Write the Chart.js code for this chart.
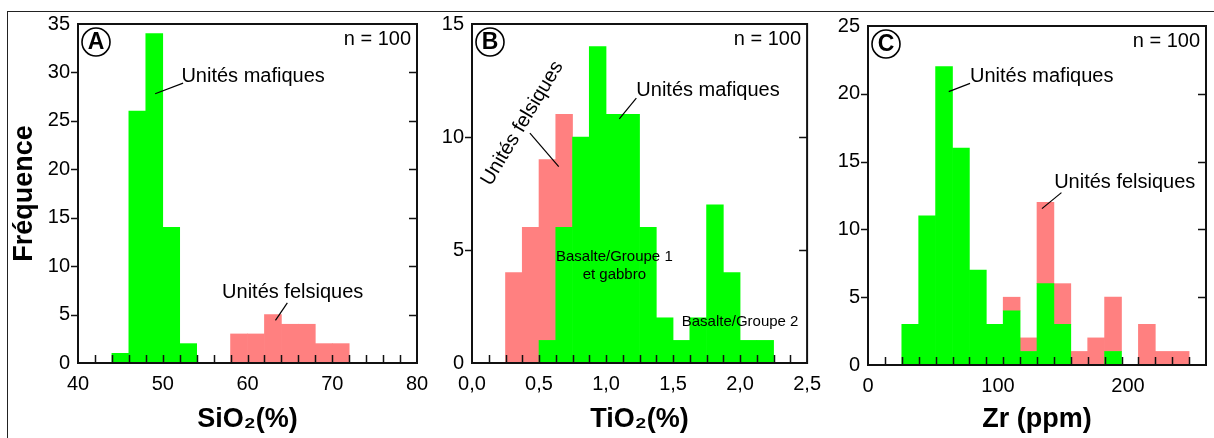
<!DOCTYPE html>
<html lang="fr">
<head>
<meta charset="utf-8">
<title>Histogrammes SiO2, TiO2 et Zr</title>
<script src="https://cdn.jsdelivr.net/npm/chart.js@4.4.1/dist/chart.umd.min.js"></script>
<style>
  html, body { margin: 0; padding: 0; background: #fff; }
  #figure { position: relative; width: 1214px; height: 438px; overflow: hidden; }
  #figure .frame { position: absolute; left: 7px; top: 11px; right: -4px; bottom: -4px; border-left: 1px solid #222; border-top: 1px solid #222; }
  .panel { position: absolute; top: 0; height: 438px; }
</style>
</head>
<body>
<div id="figure">
  <div class="frame"></div>
  <div class="panel" style="left:0;width:440px"><canvas id="chartSi" width="440" height="438"></canvas></div>
  <div class="panel" style="left:420px;width:410px"><canvas id="chartTi" width="410" height="438"></canvas></div>
  <div class="panel" style="left:820px;width:394px"><canvas id="chartZr" width="394" height="438"></canvas></div>
</div>
<script>
// SiO2 (%) : début de chaque classe, largeur 2 %
const siStep = 2;
const siBins = [44, 46, 48, 50, 52, 54, 56, 58, 60, 62, 64, 66, 68, 70];
const siMafic = [1, 26, 34, 14, 2, 0, 0, 0, 0, 0, 0, 0, 0, 0];
const siFelsic = [0, 0, 0, 0, 0, 0, 0, 3, 3, 5, 4, 4, 2, 2];
const siRange = [40, 80];
const siTicks = [40, 50, 60, 70, 80];
const siFreqTicks = [0, 5, 10, 15, 20, 25, 30, 35];

// TiO2 (%) : classes de 0,125 %
const tiStep = 0.125;
const tiBins = [0.25, 0.375, 0.5, 0.625, 0.75, 0.875, 1.0, 1.125, 1.25, 1.375, 1.5, 1.625, 1.75, 1.875, 2.0, 2.125];
const tiMafic = [0, 0, 1, 6, 10, 14, 11, 11, 6, 2, 1, 2, 7, 4, 1, 1];
const tiFelsic = [4, 6, 8, 5, 0, 0, 0, 0, 0, 0, 0, 0, 0, 0, 0, 0];
const tiRange = [0, 2.5];
const tiTicks = [0, 0.5, 1, 1.5, 2, 2.5];
const tiFreqTicks = [0, 5, 10, 15];

// Zr (ppm) : classes de 13 ppm
const zrStep = 13;
const zrBins = [26, 39, 52, 65, 78, 91, 104, 117, 130, 143, 156, 169, 182, 195, 208, 221, 234];
const zrMafic = [3, 11, 22, 16, 7, 3, 4, 1, 6, 3, 0, 0, 1, 0, 0, 0, 0];
const zrFelsic = [0, 0, 0, 0, 0, 0, 1, 1, 6, 3, 1, 2, 4, 0, 3, 1, 1];
const zrRange = [0, 260];
const zrTicks = [0, 100, 200];
const zrFreqTicks = [0, 5, 10, 15, 20, 25];

const FONT = '"Liberation Sans", Arial, Helvetica, sans-serif';
Chart.defaults.font.family = FONT;
Chart.defaults.color = '#000';

const MAFIC_COLOR = '#00ff00';
const FELSIC_COLOR = '#ff8080';

// one bar per non-empty class, centred in its class
function toPoints(bins, step, counts) {
  return bins.map((b, i) => ({ x: b + step / 2, y: counts[i] })).filter(p => p.y > 0);
}

const sum = arr => arr.reduce((a, b) => a + b, 0);

// box around the plot + tick marks (inward along x, outward left / inward right on y)
const framePlugin = {
  id: 'frame',
  afterDatasetsDraw(chart, args, opts) {
    const { ctx, chartArea: { left, right, top, bottom }, scales: { x, y } } = chart;
    ctx.save();
    ctx.strokeStyle = '#111';
    ctx.lineWidth = 1.5;
    ctx.beginPath();
    for (let v = x.min + opts.minorStep; v < x.max - opts.minorStep / 2; v += opts.minorStep) {
      const px = Math.round(x.getPixelForValue(v)) + 0.5;
      ctx.moveTo(px, bottom);
      ctx.lineTo(px, bottom - 8);
    }
    y.ticks.forEach(t => {
      if (t.value === y.min || t.value === y.max) return;
      const py = Math.round(y.getPixelForValue(t.value)) + 0.5;
      ctx.moveTo(left - 7, py);
      ctx.lineTo(left, py);
      ctx.moveTo(right, py);
      ctx.lineTo(right - 8, py);
    });
    ctx.stroke();
    ctx.lineWidth = 2;
    ctx.strokeRect(left, top, right - left, bottom - top);
    ctx.restore();
  }
};

// panel letter, sample count and the labelled groups
const notesPlugin = {
  id: 'notes',
  afterDraw(chart, args, opts) {
    const { ctx, chartArea, scales: { x, y } } = chart;
    const px = v => x.getPixelForValue(v);
    const py = v => y.getPixelForValue(v);
    ctx.save();
    ctx.fillStyle = '#000';
    ctx.strokeStyle = '#000';

    const cx = chartArea.left + 18, cy = chartArea.top + 18;
    ctx.lineWidth = 1.6;
    ctx.beginPath();
    ctx.arc(cx, cy, 14, 0, Math.PI * 2);
    ctx.stroke();
    ctx.font = 'bold 23px ' + FONT;
    ctx.textAlign = 'center';
    ctx.textBaseline = 'middle';
    ctx.fillText(opts.letter, cx, cy + 1);

    ctx.font = '20px ' + FONT;
    ctx.textAlign = 'right';
    ctx.fillText('n = ' + opts.n, chartArea.right - 6, chartArea.top + 15);

    opts.labels.forEach(l => {
      ctx.save();
      ctx.font = (l.size || 20) + 'px ' + FONT;
      ctx.textAlign = l.align || 'left';
      ctx.textBaseline = 'middle';
      ctx.translate(px(l.x), py(l.y));
      if (l.angle) ctx.rotate(l.angle * Math.PI / 180);
      ctx.fillText(l.text, 0, 0);
      ctx.restore();
      if (l.from) {
        ctx.lineWidth = 1.2;
        ctx.beginPath();
        ctx.moveTo(px(l.from[0]), py(l.from[1]));
        ctx.lineTo(px(l.to[0]), py(l.to[1]));
        ctx.stroke();
      }
    });
    ctx.restore();
  }
};

function histogram(canvasId, cfg) {
  return new Chart(document.getElementById(canvasId), {
    type: 'bar',
    data: {
      datasets: [
        { label: 'Unités mafiques', data: toPoints(cfg.bins, cfg.step, cfg.mafic), backgroundColor: MAFIC_COLOR },
        { label: 'Unités felsiques', data: toPoints(cfg.bins, cfg.step, cfg.felsic), backgroundColor: FELSIC_COLOR }
      ]
    },
    options: {
      responsive: false,
      animation: false,
      layout: { padding: { left: 0, right: cfg.padRight, top: cfg.padTop, bottom: 0 } },
      datasets: { bar: { barPercentage: 1, categoryPercentage: 1, borderWidth: 0 } },
      scales: {
        x: {
          type: 'linear',
          stacked: true,
          offset: false,
          min: cfg.range[0],
          max: cfg.range[1],
          grid: { display: false, drawTicks: false },
          border: { display: false },
          afterBuildTicks: s => { s.ticks = cfg.xTicks.map(v => ({ value: v })); },
          afterFit: s => { s.height = cfg.xHeight; },
          ticks: { padding: 9, font: { size: 20 }, maxRotation: 0, autoSkip: false, callback: cfg.xFormat },
          title: { display: true, text: cfg.xTitle, font: { size: 27, weight: 'bold' }, padding: { top: 0, bottom: 2 } }
        },
        y: {
          stacked: true,
          min: 0,
          max: cfg.yTicks[cfg.yTicks.length - 1],
          grid: { display: false, drawTicks: false },
          border: { display: false },
          afterBuildTicks: s => { s.ticks = cfg.yTicks.map(v => ({ value: v })); },
          afterFit: s => { s.width = cfg.yWidth; },
          ticks: { padding: 8, font: { size: 20 } },
          title: { display: !!cfg.yTitle, text: cfg.yTitle, font: { size: 27, weight: 'bold' }, padding: { top: 8, bottom: 0 } }
        }
      },
      plugins: {
        legend: { display: false },
        tooltip: { enabled: false },
        frame: { minorStep: cfg.step },
        notes: { letter: cfg.letter, n: sum(cfg.mafic) + sum(cfg.felsic), labels: cfg.labels }
      }
    },
    plugins: [framePlugin, notesPlugin]
  });
}

histogram('chartSi', {
  letter: 'A', step: siStep, bins: siBins, mafic: siMafic, felsic: siFelsic,
  range: siRange, xTicks: siTicks, yTicks: siFreqTicks, xTitle: 'SiO₂(%)', yTitle: 'Fréquence',
  xFormat: v => String(v),
  yWidth: 78, xHeight: 75, padTop: 24, padRight: 23,
  labels: [
    { text: 'Unités mafiques', x: 52.2, y: 29.6, from: [49.1, 27.8], to: [52.4, 28.9] },
    { text: 'Unités felsiques', x: 57.0, y: 7.3, from: [63.3, 4.4], to: [64.7, 6.2] }
  ]
});

histogram('chartTi', {
  letter: 'B', step: tiStep, bins: tiBins, mafic: tiMafic, felsic: tiFelsic,
  range: tiRange, xTicks: tiTicks, yTicks: tiFreqTicks, xTitle: 'TiO₂(%)',
  xFormat: v => v.toFixed(1).replace('.', ','),
  yWidth: 52, xHeight: 75, padTop: 24, padRight: 21,
  labels: [
    { text: 'Unités mafiques', x: 1.226, y: 12.06, from: [1.099, 10.8], to: [1.226, 11.72] },
    { text: 'Unités felsiques', x: 0.375, y: 10.6, angle: -59, align: 'center', from: [0.647, 8.69], to: [0.432, 10.17] },
    { text: 'Basalte/Groupe 1', x: 1.062, y: 4.68, size: 15, align: 'center' },
    { text: 'et gabbro', x: 1.062, y: 3.88, size: 15, align: 'center' },
    { text: 'Basalte/Groupe 2', x: 2.0, y: 1.8, size: 15, align: 'center' }
  ]
});

histogram('chartZr', {
  letter: 'C', step: zrStep, bins: zrBins, mafic: zrMafic, felsic: zrFelsic,
  range: zrRange, xTicks: zrTicks, yTicks: zrFreqTicks, xTitle: 'Zr (ppm)',
  xFormat: v => String(v),
  yWidth: 48, xHeight: 73, padTop: 26, padRight: 8,
  labels: [
    { text: 'Unités mafiques', x: 78.5, y: 21.3, from: [62.1, 20.16], to: [78.5, 20.77] },
    { text: 'Unités felsiques', x: 143.2, y: 13.45, from: [133.8, 11.53], to: [148.8, 12.71] }
  ]
});
</script>
</body>
</html>
